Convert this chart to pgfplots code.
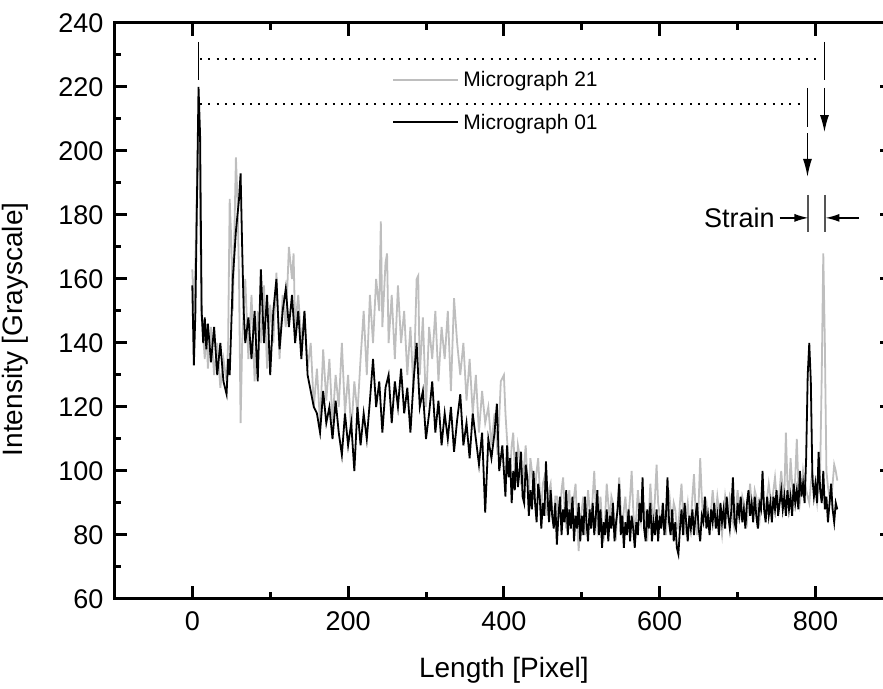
\documentclass[border=0pt]{standalone}
\usepackage{fontspec}
\setmainfont{Liberation Sans}
\usepackage{pgfplots}
\usepackage{pgfplotstable}
\pgfplotsset{compat=1.18}
\usetikzlibrary{arrows.meta,calc}

\pgfplotstableread{
x y
0 158
2 133
4 150
6 185
8 220
10 205
12 150
14 140
16 148
18 138
20 146
24 134
28 145
32 130
36 140
40 128
44 124
46 135
48 130
52 160
56 175
60 185
62 193
64 170
66 150
68 140
72 148
76 135
80 150
84 128
88 163
92 140
96 155
100 130
104 150
108 160
112 138
116 150
120 157
124 145
128 155
132 140
136 150
140 135
144 150
148 130
152 125
156 120
160 118
164 112
168 125
172 115
176 120
180 110
184 122
188 112
192 105
196 118
200 108
204 115
208 100
212 120
216 108
220 118
224 110
228 122
232 135
236 120
240 128
244 112
248 126
252 130
256 115
260 128
264 120
268 132
272 118
276 126
280 112
284 128
288 140
292 120
296 125
300 110
304 118
308 128
312 112
316 122
320 108
324 118
328 110
332 120
336 106
340 116
344 124
348 108
352 115
356 104
360 118
364 110
368 102
372 112
376 87
380 110
384 104
388 112
391 121
394 100
398 108
400 100
402 92
404 108
406 98
408 104
410 90
412 100
414 94
416 106
418 95
420 100
422 106
424 92
426 90
428 102
430 98
432 86
434 94
436 88
438 100
440 90
442 84
444 96
446 92
448 82
450 90
452 86
454 103
456 92
458 84
460 94
462 86
464 82
466 90
468 77
470 86
472 92
474 80
476 88
478 84
480 94
482 80
484 88
486 82
488 92
490 78
492 86
494 82
496 90
498 78
500 86
502 80
504 92
506 84
508 78
510 88
512 82
514 90
516 80
518 86
520 94
522 80
524 88
526 76
528 84
530 80
532 88
534 78
536 86
538 82
540 90
542 78
544 84
546 88
548 96
550 80
552 86
554 76
556 84
558 80
560 88
562 78
564 86
566 82
568 76
570 84
572 80
574 90
576 84
578 98
580 82
582 78
584 88
586 82
588 90
590 78
592 84
594 80
596 88
598 78
600 86
602 82
604 90
606 80
608 86
610 98
612 84
614 80
616 88
618 78
620 84
622 76
624 74
626 82
628 88
630 80
632 90
634 84
636 78
638 86
640 82
642 88
644 80
646 86
648 90
650 82
652 78
654 86
656 84
658 92
660 82
662 86
664 80
666 88
668 84
670 90
672 82
674 86
676 80
678 90
680 84
682 88
684 82
686 92
688 86
690 82
692 88
694 98
696 84
698 82
700 90
702 86
704 92
706 84
708 88
710 82
712 90
714 94
716 86
718 90
720 84
722 92
724 86
726 82
728 90
730 88
732 100
734 88
736 84
738 92
740 86
742 90
744 84
746 92
748 88
750 94
752 86
754 90
756 94
758 88
760 92
762 86
764 94
766 88
768 92
770 86
772 96
774 90
776 94
778 88
780 100
782 92
784 96
786 90
788 104
790 130
792 140
794 128
796 98
798 92
800 96
802 90
804 106
806 94
808 90
810 100
812 88
814 92
816 84
818 90
820 96
822 88
824 84
826 90
828 88
}\microone

\pgfplotstableread{
x y
0 163
2 150
4 165
6 190
8 208
10 180
12 148
14 142
16 135
18 146
20 132
24 145
28 130
32 140
36 126
40 135
44 128
46 140
48 185
50 172
52 150
56 198
58 185
60 160
62 115
64 140
68 160
72 135
76 155
80 128
84 150
88 140
92 158
96 132
100 152
104 140
108 162
112 135
116 155
120 145
124 170
128 160
130 168
132 145
136 155
140 140
144 150
148 132
152 140
156 120
160 132
164 115
168 138
172 122
176 135
180 115
184 130
188 120
192 140
196 118
200 130
204 112
208 128
212 118
216 135
220 150
224 130
228 155
232 140
236 160
240 150
242 178
244 145
248 165
250 168
252 140
256 155
260 135
264 158
268 140
272 150
276 130
280 145
284 125
288 160
290 161
292 130
296 148
300 120
304 145
308 135
312 150
316 128
320 145
324 135
328 150
332 125
336 154
340 140
344 130
348 140
352 122
356 135
360 118
364 130
368 112
372 125
376 115
380 120
384 108
388 118
392 105
396 128
400 130
402 118
404 110
406 104
408 100
410 108
412 112
414 100
416 98
418 108
420 105
422 96
424 95
426 102
428 108
430 98
432 92
434 104
436 100
438 92
440 94
442 100
444 104
446 94
448 88
450 96
452 98
454 90
456 86
458 94
460 96
462 88
464 84
466 92
468 92
470 86
472 86
474 94
476 98
478 88
480 82
482 90
484 94
486 86
488 86
490 92
492 96
494 84
496 75
498 84
500 88
502 92
504 80
506 86
508 94
510 88
512 84
514 92
516 100
518 88
520 82
522 86
524 92
526 84
528 78
530 86
532 96
534 90
536 84
538 92
540 90
542 82
544 80
546 90
548 98
550 88
552 82
554 88
556 92
558 84
560 86
562 92
564 100
566 88
568 80
570 86
572 94
574 88
576 84
578 90
580 90
582 84
584 78
586 86
588 96
590 88
592 84
594 92
596 102
598 90
600 86
602 82
604 90
606 86
608 80
610 88
612 94
614 88
616 84
618 90
620 88
622 82
624 82
626 90
628 96
630 86
632 80
634 86
636 90
638 84
640 84
642 92
644 99
646 88
648 80
650 90
652 104
654 92
656 84
658 88
660 90
662 84
664 82
666 88
668 94
670 88
672 86
674 92
676 88
678 84
680 80
682 86
684 92
686 88
688 86
690 92
692 90
694 84
696 82
698 88
700 94
702 88
704 86
706 92
708 90
710 86
712 84
714 90
716 96
718 90
720 88
722 94
724 92
726 86
728 84
730 90
732 94
734 90
736 88
738 92
740 96
742 92
744 90
746 94
748 98
750 92
752 88
754 94
756 100
758 94
760 92
762 112
764 96
766 92
768 104
770 96
772 92
774 98
776 110
778 96
780 90
782 94
784 100
786 96
788 94
790 92
792 90
794 96
796 100
798 96
800 94
802 90
804 96
806 100
808 130
810 168
812 140
814 100
816 95
818 92
820 90
822 96
824 102
826 100
828 97
}\microtwentyone

\definecolor{lightgr}{RGB}{190,190,190}
\definecolor{markgr}{RGB}{85,85,85}

\begin{document}
\begin{tikzpicture}
\begin{axis}[
    name=main,
    scale only axis,
    width=389.5pt,
    height=288pt,
    xmin=-100, xmax=900,
    ymin=60, ymax=240,
    xtick={0,200,400,600,800},
    ytick={60,80,...,240},
    minor x tick num=1,
    minor y tick num=1,
    tick pos=both,
    tick align=inside,
    major tick length=6.5pt,
    minor tick length=3.5pt,
    every tick/.style={black, line width=1.5pt},
    axis line style={line width=1.5pt},
    /pgf/number format/assume math mode=true,
    tick label style={font=\fontsize{13.5}{16}\selectfont},
    xticklabel style={yshift=-3pt},
    yticklabel style={xshift=-2pt},
    label style={font=\fontsize{14}{17}\selectfont},
    xlabel={Length [Pixel]},
    ylabel={Intensity [Grayscale]},
    xlabel style={yshift=-6pt},
    ylabel style={at={(ticklabel cs:0.468)}, yshift=8pt},
    clip=false,
]
\addplot[lightgr, line width=0.9pt] table[x=x, y=y] {\microtwentyone};
\addplot[black, line width=0.9pt] table[x=x, y=y] {\microone};

% annotation lines
\draw[black, line width=0.75pt, dash pattern=on 1pt off 3.15pt] (axis cs:10,228.75) -- (axis cs:806,228.75);
\draw[black, line width=0.75pt, dash pattern=on 1pt off 3.15pt] (axis cs:10,214.7) -- (axis cs:786,214.7);
\draw[black, line width=0.7pt] (axis cs:7.7,234.1) -- (axis cs:7.7,222.2);
\draw[black, line width=0.7pt] (axis cs:811.5,234.1) -- (axis cs:811.5,222.2);
\draw[black, line width=0.7pt, -{Latex[length=8.5pt,width=4.5pt]}] (axis cs:811.5,219.7) -- (axis cs:811.5,205.9);
\draw[black, line width=0.7pt] (axis cs:789.7,219.7) -- (axis cs:789.7,207.5);
\draw[black, line width=0.7pt, -{Latex[length=9pt,width=4.5pt]}] (axis cs:789.7,205.6) -- (axis cs:789.7,191.9);
\draw[markgr, line width=1pt] (axis cs:791,186.3) -- (axis cs:791,174.7);
\draw[markgr, line width=1pt] (axis cs:812.8,186.3) -- (axis cs:812.8,174.7);
\draw[black, line width=0.7pt, -{Latex[length=7pt,width=4pt]}] (axis cs:753.8,179.1) -- (axis cs:791,179.1);
\draw[black, line width=0.7pt, -{Latex[length=7pt,width=4pt]}] (axis cs:856,179.1) -- (axis cs:812.8,179.1);
\node[anchor=east, inner sep=0pt, font=\fontsize{13.5}{16}\selectfont] at (axis cs:748,179.1) {Strain};

% legend
\draw[lightgr, line width=0.8pt] (axis cs:258,222.2) -- (axis cs:340.5,222.2);
\node[anchor=west, inner sep=0pt, font=\fontsize{10.5}{12}\selectfont] at (axis cs:347.6,221.8) {Micrograph 21};
\draw[black, line width=0.8pt] (axis cs:258,209) -- (axis cs:340.5,209);
\node[anchor=west, inner sep=0pt, font=\fontsize{10.5}{12}\selectfont] at (axis cs:347.6,208.3) {Micrograph 01};
\end{axis}
\pgfresetboundingbox
\useasboundingbox ($(main.south west)+(-57.2pt,-45pt)$) rectangle ($(main.south west)+(384.3pt,299.5pt)$);
\end{tikzpicture}
\end{document}
